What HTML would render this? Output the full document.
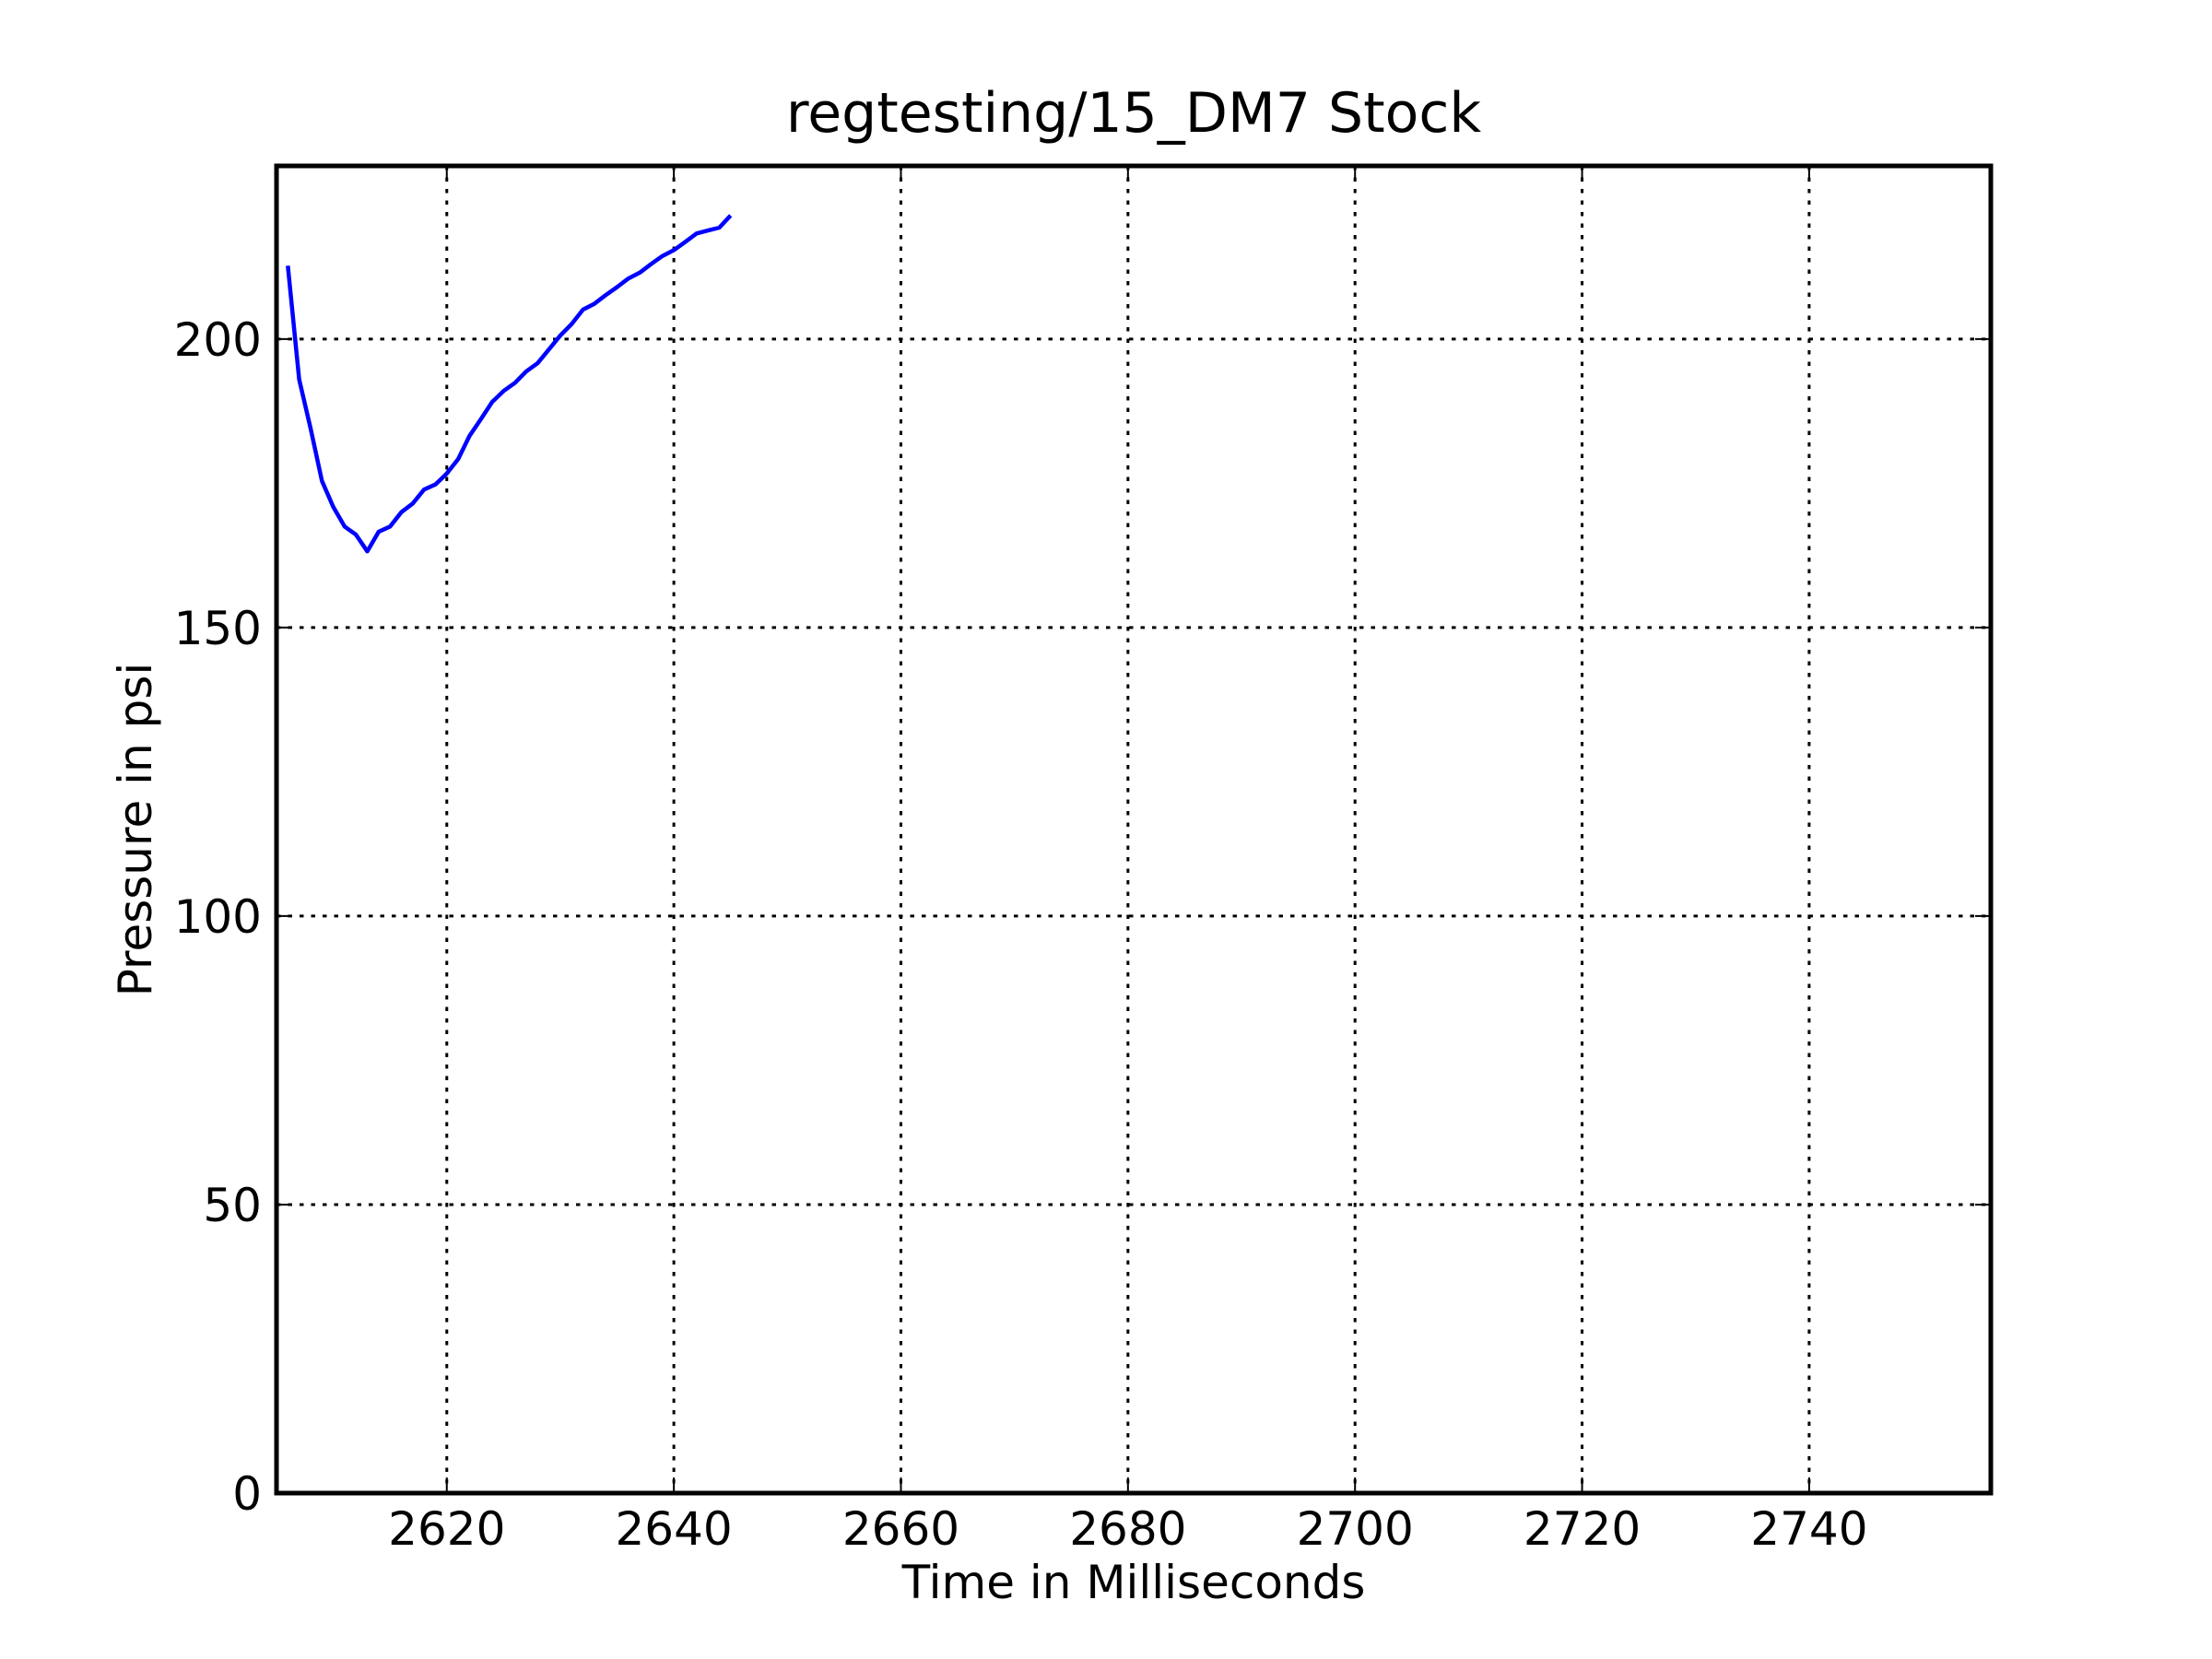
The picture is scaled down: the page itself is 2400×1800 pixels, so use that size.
<!DOCTYPE html>
<html><head><meta charset="utf-8"><style>
html,body{margin:0;padding:0;background:#fff;}
svg{display:block;font-family:"DejaVu Sans","Liberation Sans",sans-serif;}
</style></head><body>
<svg id="chart" width="2400" height="1800" viewBox="0 0 2400 1800" xmlns="http://www.w3.org/2000/svg">
<rect width="2400" height="1800" fill="#fff"/>
<text x="1230" y="143" font-size="60" text-anchor="middle">regtesting/15_DM7 Stock</text>
<g id="grid"></g>
<g id="ticks"></g>
<polyline id="series" fill="none" stroke="#0000ff" stroke-width="4.5" stroke-linejoin="round"/>
<rect x="300" y="180" width="1860" height="1440" fill="none" stroke="#000" stroke-width="5"/>
<text x="1230" y="1734" font-size="50" text-anchor="middle">Time in Milliseconds</text>
<text x="0" y="0" font-size="50" text-anchor="middle" transform="translate(164,900) rotate(-90)">Pressure in psi</text>
</svg>
<script>
const timesMs = [2606,2607,2608,2609,2610,2611,2612,2613,2614,2615,2616,2617,2618,2619,2620,2621,2622,2623,2624,2625,2626,2627,2628,2629,2630,2631,2632,2633,2634,2635,2636,2637,2638,2639,2640,2641,2642,2643,2644,2645];
const pressurePsi = [212.7,193.0,184.5,175.4,170.9,167.5,166.1,163.2,166.6,167.5,170.0,171.5,173.9,174.8,176.7,179.2,183.2,186.1,189.1,191.0,192.4,194.4,195.8,198.2,200.6,202.6,205.1,206.1,207.6,209.0,210.5,211.5,213.0,214.4,215.4,216.8,218.3,218.8,219.3,221.4];
const xTicks = [2620,2640,2660,2680,2700,2720,2740];
const yTicks = [0,50,100,150,200];
const xMin = 2605, xMax = 2756, yMin = 0, yMax = 230;
const L = 300, R = 2160, T = 180, B = 1620;
function sx(v){ return L + (v - xMin) / (xMax - xMin) * (R - L); }
function sy(v){ return B - (v - yMin) / (yMax - yMin) * (B - T); }
const NS = "http://www.w3.org/2000/svg";
const grid = document.getElementById('grid');
const ticks = document.getElementById('ticks');
function mk(tag, attrs, parent){ const e = document.createElementNS(NS, tag); for (const k in attrs) e.setAttribute(k, attrs[k]); parent.appendChild(e); return e; }
xTicks.forEach(t => {
  const x = sx(t);
  const g = mk('line', {x1:x, x2:x, y1:T, y2:B, stroke:'#000', 'stroke-width':3, 'stroke-dasharray':'4.5 8'}, grid);
  
  
  const a = mk('line', {x1:x, x2:x, y1:B, y2:B-17, stroke:'#000', 'stroke-width':2}, ticks);
  
  
  const b = mk('line', {x1:x, x2:x, y1:T, y2:T+17, stroke:'#000', 'stroke-width':2}, ticks);
  
  
  const tx = mk('text', {x:x, y:1676, 'font-size':50, 'text-anchor':'middle'}, ticks);
  tx.textContent = t;
  
  
});
yTicks.forEach(t => {
  const y = sy(t);
  const g = mk('line', {x1:L, x2:R, y1:y, y2:y, stroke:'#000', 'stroke-width':3, 'stroke-dasharray':'4.5 8'}, grid);
  
  
  const a = mk('line', {x1:L, x2:L+17, y1:y, y2:y, stroke:'#000', 'stroke-width':2}, ticks);
  
  
  const b = mk('line', {x1:R, x2:R-17, y1:y, y2:y, stroke:'#000', 'stroke-width':2}, ticks);
  
  
  const tx = mk('text', {x:284, y:y+18, 'font-size':50, 'text-anchor':'end'}, ticks);
  tx.textContent = t;
  
  
});
document.getElementById('series').setAttribute('points', timesMs.map((t,i) => sx(t).toFixed(1) + ',' + sy(pressurePsi[i]).toFixed(1)).join(' '));
</script>
</body></html>
